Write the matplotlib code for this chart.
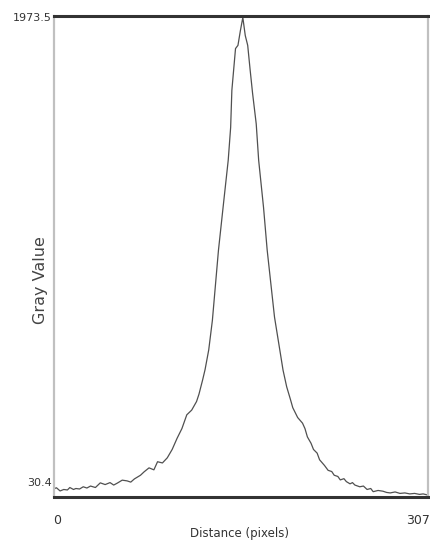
import matplotlib
matplotlib.use("Agg")
import matplotlib.pyplot as plt

# profile (distance in pixels, gray value)
dist = [0, 2, 5, 8, 11, 13, 16, 18, 21, 24, 27, 30, 34, 38, 42, 46, 49, 52, 56,
        60, 63, 66, 71, 74, 78, 82, 85, 89, 93, 97, 101, 105, 109, 113, 117,
        119, 122, 124, 127, 130, 135, 139, 143, 145, 146, 149, 151, 153, 155,
        157, 159, 161, 163, 166, 168, 172, 175, 181, 186, 188, 191, 194, 196,
        200, 204, 206, 208, 211, 213, 216, 218, 222, 225, 228, 230, 233, 235,
        238, 240, 243, 245, 247, 251, 254, 257, 260, 262, 266, 270, 273, 276,
        280, 284, 288, 292, 296, 300, 303, 306]
gray = [55, 59, 46, 52, 50, 60, 52, 56, 54, 63, 58, 66, 60, 79, 72, 80, 70, 78,
        90, 87, 82, 95, 110, 124, 140, 132, 165, 160, 181, 215, 260, 300, 356,
        375, 410, 440, 498, 540, 620, 740, 1026, 1210, 1392, 1526, 1677, 1847,
        1860, 1920, 1973.5, 1900, 1860, 1760, 1665, 1540, 1392, 1200, 1026, 754,
        600, 538, 470, 420, 385, 345, 322, 300, 266, 240, 215, 200, 173, 150,
        130, 125, 110, 105, 91, 96, 84, 75, 80, 70, 63, 66, 52, 56, 43, 48, 45,
        40, 38, 42, 36, 38, 34, 36, 32, 34, 30.4]

x_min, x_max = 0, 307
y_min, y_max = 30.4, 1973.5

FONT = ["Liberation Sans Narrow", "DejaVu Sans"]

fig = plt.figure(figsize=(4.3, 5.52), dpi=100)
fig.patch.set_facecolor("white")
ax = fig.add_axes([54 / 430, 55 / 552, 374 / 430, 481 / 552])

ax.plot(dist, gray, color="#505050", lw=0.9)
ax.set_xlim(x_min, x_max)
ax.set_ylim(y_min - 9, y_max + 6)
ax.set_xticks([]); ax.set_yticks([])

ax.spines["top"].set_color("#333333"); ax.spines["top"].set_linewidth(2.2)
ax.spines["bottom"].set_color("#333333"); ax.spines["bottom"].set_linewidth(2.2)
ax.spines["left"].set_color("#c0c0c0"); ax.spines["left"].set_linewidth(1.6)
ax.spines["right"].set_color("#c0c0c0"); ax.spines["right"].set_linewidth(1.6)

# ImageJ style labels at the frame corners
fig.text(52 / 430, 1 - 18 / 552, "1973.5", ha="right", va="center",
         fontsize=8, family=FONT, color="#333333")
fig.text(52 / 430, 1 - 483 / 552, "30.4", ha="right", va="center",
         fontsize=8, family=FONT, color="#333333")
fig.text(57 / 430, 1 - 521 / 552, "0", ha="center", va="center",
         fontsize=9, family=FONT, color="#333333")
fig.text(430 / 430, 1 - 521 / 552, "307", ha="right", va="center",
         fontsize=9, family=FONT, color="#333333")
fig.text(240 / 430, 1 - 533 / 552, "Distance (pixels)", ha="center", va="center",
         fontsize=8.5, family=FONT, color="#333333")
fig.text(41 / 430, 1 - 280 / 552, "Gray Value", ha="center", va="center",
         rotation=90, fontsize=11.5, color="#444444")

plt.savefig("out.png", dpi=100, facecolor="white")
